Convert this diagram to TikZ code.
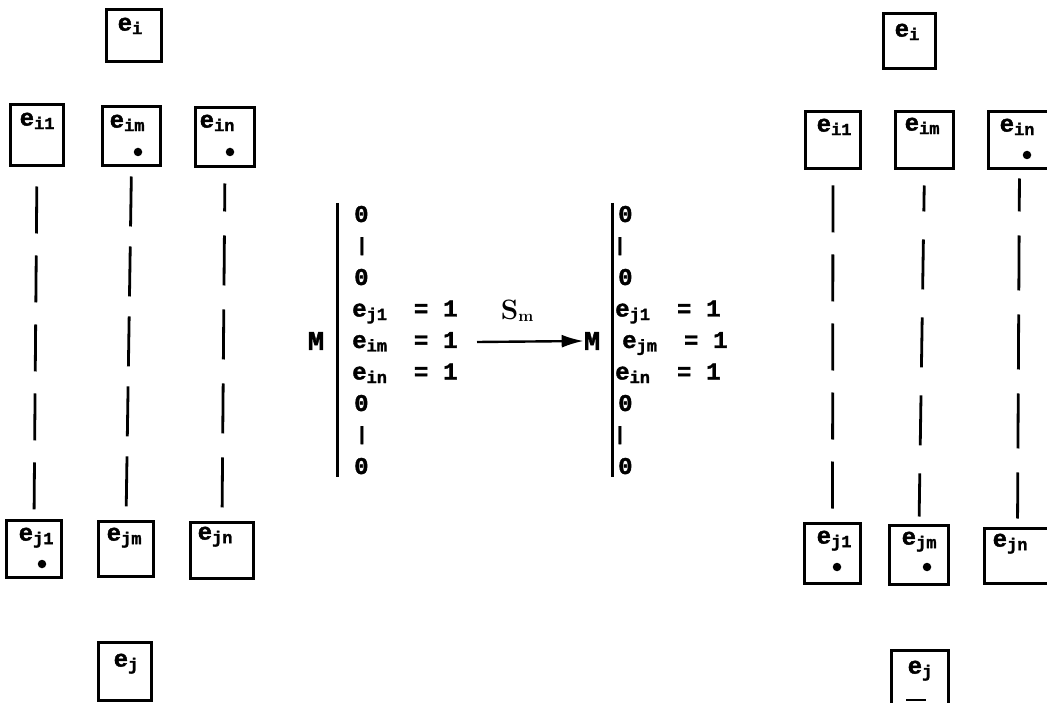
\documentclass[tikz,border=0pt]{standalone}
\usepackage{fontspec}
\newfontfamily\tw{Liberation Mono}[BoldFeatures={FakeBold=1.6}]
\usetikzlibrary{arrows.meta}
\newcommand\sbx[1]{\raisebox{-3.5pt}{\fontsize{17}{17}\selectfont #1}}
\newcommand\vbar{\hspace{2pt}\raisebox{1pt}{\fontsize{19}{19}\selectfont |}}
\tikzset{
  box/.style 2 args={draw, line width=3pt, minimum width=#1pt, minimum height=#2pt, inner sep=0pt, outer sep=0pt},
  lab/.style={anchor=north west, inner sep=0pt, font=\tw\bfseries\fontsize{24}{24}\selectfont},
  dot/.style={circle, fill, inner sep=0pt, minimum size=8.5pt},
  conn/.style={line width=2.8pt, dash pattern=on 47pt off 22pt},
  bar/.style={line width=3pt},
  row/.style={anchor=base west, inner sep=0pt, font=\tw\bfseries\fontsize{24}{24}\selectfont},
  mm/.style={inner sep=0pt, font=\tw\bfseries\fontsize{27}{27}\selectfont},
  arr/.style={line width=2.4pt, -{Latex[length=22pt,width=13pt]}}
}
\newcommand\eqrow[2]{\makebox[62pt][l]{e\sbx{#1}}\makebox[14pt]{=}\hspace{15pt}#2}
\begin{document}
\begin{tikzpicture}[x=1pt,y=-1pt]
\useasboundingbox (0,0) rectangle (1047,703);
\begin{scope}
\clip (0,0) rectangle (1047,703);
% ---------- left tree ----------
\node[box={55}{52}] (LT) at (134,35.5) {};
\node[box={53}{61}] (LA1) at (37,135) {};
\node[box={58}{59}] (LA2) at (131.5,136) {};
\node[box={59}{59}] (LA3) at (225,137) {};
\node[box={55}{57}] (LB1) at (34,549) {};
\node[box={55}{55}] (LB2) at (126,549) {};
\node[box={63}{56}] (LB3) at (222,550.5) {};
\node[box={53}{58}] (LJ) at (125,671.5) {};
\node[lab] (lLT) at ([shift={(11,8)}]LT.north west) {e\sbx{i}};
\node[lab] (lLA1) at ([shift={(9,8)}]LA1.north west) {e\sbx{i1}};
\node[lab] (lLA2) at ([shift={(7,8)}]LA2.north west) {e\sbx{im}};
\node[lab] (lLA3) at ([shift={(4,7)}]LA3.north west) {e\sbx{in}};
\node[lab] (lLB1) at ([shift={(12,7)}]LB1.north west) {e\sbx{j1}};
\node[lab] (lLB2) at ([shift={(8,6)}]LB2.north west) {e\sbx{jm}};
\node[lab] (lLB3) at ([shift={(7,4)}]LB3.north west) {e\sbx{jn}};
\node[lab] (lLJ) at ([shift={(15,11)}]LJ.north west) {e\sbx{j}};
\node[dot] (dLA2) at (138,152) {};
\node[dot] (dLA3) at (230,152) {};
\node[dot] (dLB1) at (42,564) {};
\draw[conn, shorten <=21pt, shorten >=8pt] (LA1.south) -- (LB1.north);
\draw[conn, dash pattern=on 50pt off 20pt, shorten <=11pt, shorten >=10pt] (LA2.south) -- (LB2.north);
\draw[conn, dash pattern=on 50pt off 24pt, dash phase=22pt, shorten <=17pt, shorten >=6pt] (LA3.south) -- (LB3.north);
% ---------- right tree ----------
\node[box={52}{55}] (RT) at (909.5,41) {};
\node[box={55}{57}] (RA1) at (833,140) {};
\node[box={58}{57}] (RA2) at (924.5,140) {};
\node[box={62}{57}] (RA3) at (1019.5,140) {};
\node[box={56}{60}] (RB1) at (832.5,553.5) {};
\node[box={59}{59}] (RB2) at (919,555) {};
\node[box={66}{55}] (RB3) at (1017.5,556) {};
\node[box={57}{60}] (RJ) at (920,680.5) {};
\node[lab] (lRT) at ([shift={(11,10)}]RT.north west) {e\sbx{i}};
\node[lab] (lRA1) at ([shift={(11,7)}]RA1.north west) {e\sbx{i1}};
\node[lab] (lRA2) at ([shift={(9,6)}]RA2.north west) {e\sbx{im}};
\node[lab] (lRA3) at ([shift={(11,7)}]RA3.north west) {e\sbx{in}};
\node[lab] (lRB1) at ([shift={(12,7)}]RB1.north west) {e\sbx{j1}};
\node[lab] (lRB2) at ([shift={(12,6)}]RB2.north west) {e\sbx{jm}};
\node[lab] (lRB3) at ([shift={(8,5)}]RB3.north west) {e\sbx{jn}};
\node[lab] (lRJ) at ([shift={(16,10)}]RJ.north west) {e\sbx{j}};
\node[dot] (dRA3) at (1027,155) {};
\node[dot] (dRB1) at (837,567) {};
\node[dot] (dRB2) at (927,567) {};
\draw[line width=1.5pt] (906,700) -- (926,700);
\draw[conn, shorten <=17pt, shorten >=10pt] (RA1.south) -- (RB1.north);
\draw[conn, dash pattern=on 50pt off 28pt, dash phase=24pt, shorten <=17pt, shorten >=9pt] (RA2.south) -- (RB2.north);
\draw[conn, dash pattern=on 55pt off 24pt, dash phase=22pt, shorten <=10pt, shorten >=10pt] (RA3.south) -- (RB3.north);
\end{scope}
% ---------- middle: state vectors ----------
\draw[bar] (337,203) -- (337,477);
\draw[bar] (612,203) -- (612,477);
\node[mm] (ML) at (316,341) {M};
\node[mm] (MR) at (592,341) {M};
\node[row] (L0) at (354,222) {0};
\node[row] (L1) at (354,252) {\vbar};
\node[row] (L2) at (354,285) {0};
\node[row] (L3) at (352,316.5) {\eqrow{j1}{1}};
\node[row] (L4) at (352,348) {\eqrow{im}{1}};
\node[row] (L5) at (352,379.5) {\eqrow{in}{1}};
\node[row] (L6) at (354,411) {0};
\node[row] (L7) at (354,441) {\vbar};
\node[row] (L8) at (354,474) {0};
\node[row] (R0) at (618,222) {0};
\node[row] (R1) at (612,252) {\vbar};
\node[row] (R2) at (618,285) {0};
\node[row] (R3) at (615,316.5) {\eqrow{j1}{1}};
\node[row] (R4) at (622,348) {\eqrow{jm}{1}};
\node[row] (R5) at (615,379.5) {\eqrow{in}{1}};
\node[row] (R6) at (618,411) {0};
\node[row] (R7) at (612,441) {\vbar};
\node[row] (R8) at (618,474) {0};
\node[inner sep=0pt, font=\bfseries\fontsize{28}{28}\selectfont] (S) at (517,311) {S\raisebox{-2pt}{\fontsize{16}{16}\selectfont m}};
\coordinate (AS) at (477,342);
\draw[arr] (AS) -- (MR.west);
\end{tikzpicture}
\end{document}
